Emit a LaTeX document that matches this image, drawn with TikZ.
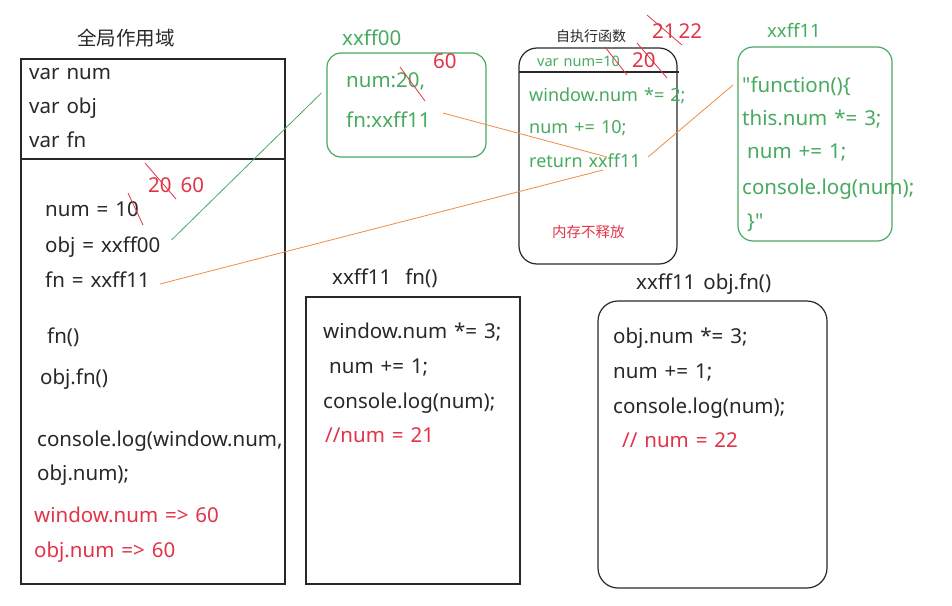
\documentclass[tikz,border=0pt]{standalone}
\usepackage{fontspec}
\setmainfont{Noto Sans}[Ligatures=TeXOff, WordSpace=1.3]
\newfontfamily\cjk{Noto Sans CJK SC}
\usepackage{xcolor}
\usetikzlibrary{positioning}
\definecolor{codegreen}{RGB}{72,170,96}
\definecolor{notered}{RGB}{226,52,72}
\definecolor{linkorange}{RGB}{242,140,64}
\definecolor{boxgray}{RGB}{40,40,40}

\begin{document}
\begin{tikzpicture}[x=1pt, y=-1pt,
  txt/.style = {anchor=base west, inner sep=0pt, font=\fontsize{20.5}{22}\selectfont, text=boxgray},
  mid/.style = {txt, font=\fontsize{18}{20}\selectfont},
  small/.style = {txt, font=\fontsize{14.5}{16}\selectfont},
  gtxt/.style = {txt, text=codegreen},
  rtxt/.style = {txt, text=notered},
  box/.style = {draw=boxgray, line width=1.2pt, inner sep=0pt},
  gbox/.style = {draw=codegreen, line width=1.2pt, inner sep=0pt},
  strike/.style = {draw=notered, line width=0.8pt},
  glink/.style = {draw=codegreen, line width=0.8pt},
  olink/.style = {draw=linkorange, line width=0.8pt}]
\useasboundingbox[fill=white] (0,0) rectangle (952,605);

% global scope
\node[txt, font=\cjk\fontsize{19.5}{21}\selectfont] (gtitle) at (77,45) {全局作用域};
\node[box, minimum width=264pt, minimum height=525pt] (gscope) at (153,321.5) {};
\draw[box] (21,159) -- (285,159);
\node[txt] (vnum) at (29,79) {var num};
\node[txt] (vobj) at (29,113) {var obj};
\node[txt] (vfn) at (29,147) {var fn};
\node[txt] (anum) at (45,216) {num = 10};
\node[txt] (aobj) at (45,252) {obj = xxff00};
\node[txt] (afn) at (45,287) {fn = xxff11};
\node[txt] (cfn) at (47,343) {fn()};
\node[txt] (cobjfn) at (40,384) {obj.fn()};
\node[txt] (log1) at (37,446) {console.log(window.num,};
\node[txt] (log2) at (37,480) {obj.num);};
\node[rtxt] (res1) at (34,522) {window.num => 60};
\node[rtxt] (res2) at (34,557) {obj.num => 60};
\node[rtxt] (newnum) at (148,192) {20\hspace{9pt}60};
\draw[strike] (128,193) -- (143,225);
\draw[strike] (145,163) -- (176,199);

% object xxff00
\node[gtxt] (ff00title) at (342,45) {xxff00};
\node[gbox, rounded corners=14pt, minimum width=159pt, minimum height=104pt] (ff00box) at (406.5,105) {};
\node[gtxt] (objnum) at (346,87) {num:20,};
\node[gtxt] (objfn) at (346,127) {fn:xxff11};
\node[rtxt] (objsixty) at (433,68) {60};
\draw[strike] (400,67) -- (425,101);

% self-executing function
\node[small, font=\cjk\fontsize{14}{16}\selectfont] (iifetitle) at (556,41) {自执行函数};
\node[box, rounded corners=18pt, minimum width=158pt, minimum height=216pt] (iifebox) at (598,156) {};
\draw[box] (519,72) -- (679,72);
\node[small, text=codegreen] (iifevar) at (537,66) {var num=10};
\node[rtxt] (iifetwenty) at (632,67) {20};
\node[rtxt] (iifeup) at (652,38) {21\hspace{3pt}22};
\draw[strike] (605,47) -- (627,75);
\draw[strike] (637,43) -- (667,78);
\draw[strike] (647,15) -- (682,45);
\node[mid, text=codegreen] (iife1) at (529,101) {window.num *= 2;};
\node[mid, text=codegreen] (iife2) at (529,133) {num += 10;};
\node[mid, text=codegreen] (iife3) at (529,167) {return xxff11};
\node[small, text=notered, font=\cjk\fontsize{14.5}{16}\selectfont] (keep) at (552,237) {内存不释放};

% function xxff11
\node[gtxt, font=\fontsize{18.5}{20}\selectfont] (ff11title) at (767,37) {xxff11};
\node[gbox, rounded corners=15pt, minimum width=154pt, minimum height=194pt] (ff11box) at (815,144) {};
\node[gtxt] (body1) at (742,92) {"function()\{};
\node[gtxt] (body2) at (742,125) {this.num *= 3;};
\node[gtxt] (body3) at (747,158) {num += 1;};
\node[gtxt] (body4) at (742,194) {console.log(num);};
\node[gtxt] (body5) at (747,228) {\}"};

% call fn()
\node[txt] (fntitle) at (332,284) {xxff11\hspace{14pt}fn()};
\node[box, minimum width=214pt, minimum height=287pt] (fnbox) at (413,440.5) {};
\node[txt] (fn1) at (323,338) {window.num *= 3;};
\node[txt] (fn2) at (329,373) {num += 1;};
\node[txt] (fn3) at (323,408) {console.log(num);};
\node[rtxt] (fn4) at (325,442) {//num = 21};

% call obj.fn()
\node[txt] (ofntitle) at (636,289) {xxff11\hspace{8pt}obj.fn()};
\node[box, rounded corners=20pt, minimum width=229pt, minimum height=287pt] (ofnbox) at (712.5,444.5) {};
\node[txt] (ofn1) at (613,343) {obj.num *= 3;};
\node[txt] (ofn2) at (613,378) {num += 1;};
\node[txt] (ofn3) at (613,413) {console.log(num);};
\node[rtxt] (ofn4) at (622,447) {// num = 22};

% references
\draw[glink] ([shift={(11,-12)}]aobj.base east) -- ([shift={(-5,-12)}]ff00box.west);
\draw[olink] ([shift={(10,-3)}]afn.base east) -- ([shift={(74,3)}]iife3.base west);
\draw[olink] ([shift={(12,-14)}]objfn.base east) -- ([shift={(78,-10)}]iife3.base west);
\draw[olink] ([shift={(119,-10)}]iife3.base west) -- ([shift={(-9,-7)}]body1.base west);
\end{tikzpicture}
\end{document}
